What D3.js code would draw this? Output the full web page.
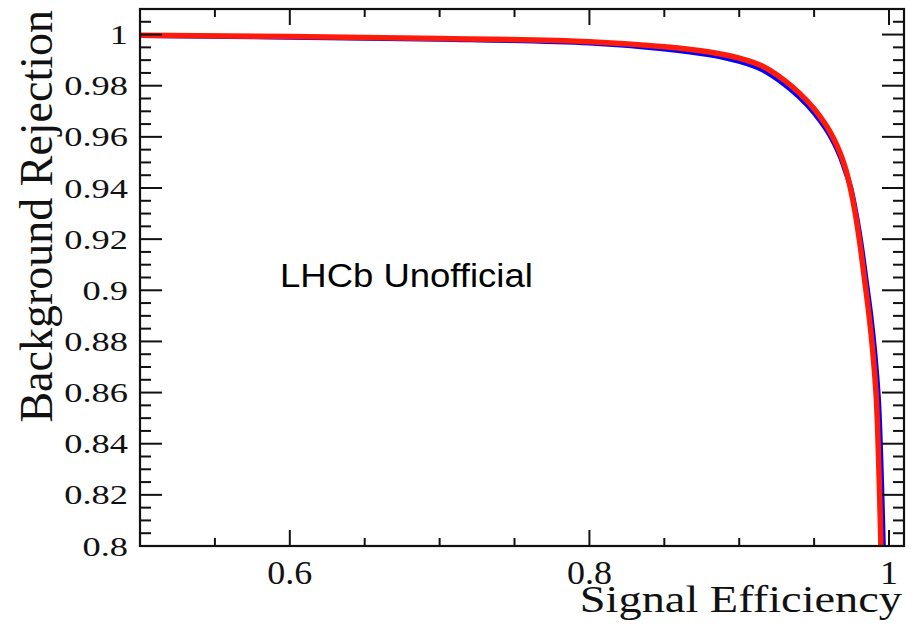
<!DOCTYPE html>
<html>
<head>
<meta charset="utf-8">
<script src="https://cdn.jsdelivr.net/npm/d3@7"></script>
<style>
  html, body { margin: 0; padding: 0; background: #fff; }
  svg { display: block; }
</style>
</head>
<body>
<svg id="chart" width="916" height="643"></svg>
<script>
// ROC curves: background rejection vs signal efficiency for two classifiers
const redSigEff = [0.5, 0.6, 0.7, 0.8, 0.85, 0.88, 0.9, 0.915, 0.93, 0.94, 0.95, 0.958, 0.9635, 0.9675, 0.971, 0.974, 0.9775, 0.9805, 0.9835, 0.9865, 0.989, 0.9915, 0.993, 0.9946];
const redBkgRej = [0.9997, 0.9992, 0.9985, 0.9972, 0.9952, 0.9932, 0.9908, 0.9878, 0.9822, 0.9772, 0.9710, 0.9645, 0.9588, 0.9535, 0.9475, 0.9405, 0.9300, 0.9185, 0.9050, 0.8910, 0.8770, 0.8580, 0.8350, 0.8000];

const blueSigEff = [0.5, 0.6, 0.7, 0.8, 0.85, 0.88, 0.9, 0.915, 0.93, 0.94, 0.95, 0.958, 0.9635, 0.9675, 0.971, 0.9743, 0.978, 0.9813, 0.9845, 0.9877, 0.9903, 0.9929, 0.9945, 0.9962];
const blueBkgRej = [0.9996, 0.9990, 0.9982, 0.9967, 0.9944, 0.9921, 0.9895, 0.9863, 0.9806, 0.9756, 0.9694, 0.9630, 0.9574, 0.9522, 0.9464, 0.9405, 0.9300, 0.9185, 0.9050, 0.8910, 0.8770, 0.8580, 0.8350, 0.8000];

const xMajorTicks = [0.6, 0.8, 1.0];
const xTickLabels = ["0.6", "0.8", "1"];
const xMinorTicks = [0.55, 0.65, 0.7, 0.75, 0.85, 0.9, 0.95];

const yMajorTicks = [0.8, 0.82, 0.84, 0.86, 0.88, 0.9, 0.92, 0.94, 0.96, 0.98, 1.0];
const yTickLabels = ["0.8", "0.82", "0.84", "0.86", "0.88", "0.9", "0.92", "0.94", "0.96", "0.98", "1"];
const yMinorTicks = d3.range(0, 43).map(i => +(0.8 + i * 0.005).toFixed(3))
  .filter(v => !yMajorTicks.some(m => Math.abs(m - v) < 1e-9));

const xTitle = "Signal Efficiency";
const yTitle = "Background Rejection";
const tagText = "LHCb Unofficial";

const svg = d3.select("#chart");
const L = 140, R = 904, T = 9, B = 546;

const x = d3.scaleLinear().domain([0.5, 1.01]).range([L, R]);
const y = d3.scaleLinear().domain([0.8, 1.01]).range([B, T]);

const serif = "'Liberation Serif', 'Times New Roman', serif";
const sans = "'Liberation Sans', Arial, sans-serif";

// curves, clipped to the frame
svg.append("clipPath").attr("id", "plotclip")
  .append("rect").attr("x", L).attr("y", T).attr("width", R - L).attr("height", B - T);

const line = d3.line().curve(d3.curveCatmullRom.alpha(0.5));
const gCurves = svg.append("g").attr("clip-path", "url(#plotclip)");

const bluePts = blueSigEff.map((v, i) => [x(v), y(blueBkgRej[i])]);
const redPts = redSigEff.map((v, i) => [x(v), y(redBkgRej[i])]);

gCurves.append("path").attr("d", line(bluePts))
  .attr("fill", "none").attr("stroke", "#0000ff").attr("stroke-width", 5).attr("stroke-linejoin", "round");
gCurves.append("path").attr("d", line(redPts))
  .attr("fill", "none").attr("stroke", "#ff1a0a").attr("stroke-width", 5.5).attr("stroke-linejoin", "round");

// frame ticks
const ticks = svg.append("g").attr("stroke", "#111").attr("stroke-width", 2);
function hTick(v, len) {
  ticks.append("line").attr("x1", L).attr("x2", L + len).attr("y1", y(v)).attr("y2", y(v));
  ticks.append("line").attr("x1", R).attr("x2", R - len).attr("y1", y(v)).attr("y2", y(v));
}
function vTick(v, len) {
  ticks.append("line").attr("x1", x(v)).attr("x2", x(v)).attr("y1", B).attr("y2", B - len);
  ticks.append("line").attr("x1", x(v)).attr("x2", x(v)).attr("y1", T).attr("y2", T + len);
}
yMajorTicks.forEach(v => hTick(v, 22));
yMinorTicks.forEach(v => hTick(v, 11));
xMajorTicks.forEach(v => vTick(v, 16));
xMinorTicks.forEach(v => vTick(v, 8));

svg.append("rect").attr("x", L).attr("y", T).attr("width", R - L).attr("height", B - T)
  .attr("fill", "none").attr("stroke", "#111").attr("stroke-width", 2.2);

// tick labels
yMajorTicks.forEach((v, i) => {
  svg.append("text")
    .attr("transform", `translate(128,${y(v) + 9.5}) scale(1.3,1)`)
    .attr("text-anchor", "end")
    .attr("font-family", serif).attr("font-size", 28).attr("fill", "#111")
    .text(yTickLabels[i]);
});
xMajorTicks.forEach((v, i) => {
  svg.append("text")
    .attr("transform", `translate(${x(v)},584) scale(1.06,1)`)
    .attr("text-anchor", "middle")
    .attr("font-family", serif).attr("font-size", 34).attr("fill", "#111")
    .text(xTickLabels[i]);
});

// axis titles
svg.append("text")
  .attr("transform", "translate(902,612) scale(1.22,1)")
  .attr("text-anchor", "end")
  .attr("font-family", serif).attr("font-size", 38).attr("fill", "#111")
  .text(xTitle);

svg.append("text")
  .attr("transform", "translate(52,10) rotate(-90)")
  .attr("text-anchor", "end")
  .attr("font-family", serif).attr("font-size", 46).attr("fill", "#111")
  .text(yTitle);

// tag
svg.append("text")
  .attr("transform", "translate(280,287) scale(1.09,1)")
  .attr("font-family", sans).attr("font-size", 33.5).attr("fill", "#000")
  .text(tagText);
</script>
</body>
</html>
